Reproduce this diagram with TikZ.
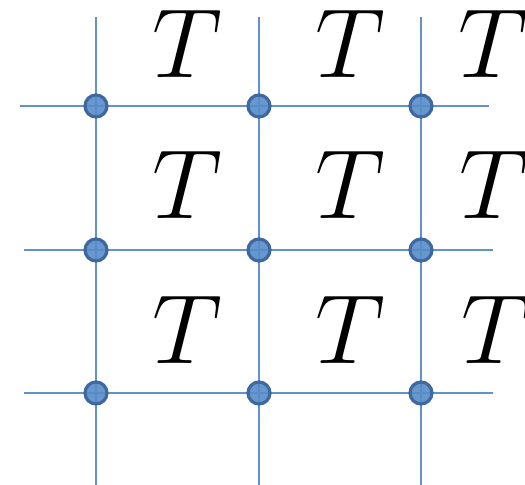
\documentclass[tikz,border=0pt]{standalone}
\usepackage{amsmath}
\usepackage{tikz}
\usepackage{xcolor}
\usetikzlibrary{positioning}
\definecolor{gridblue}{RGB}{98, 146, 204}
\definecolor{dotblue}{RGB}{86, 140, 200}
\definecolor{dotedge}{RGB}{62, 104, 160}

\begin{document}
\begin{tikzpicture}[
    gridline/.style={draw=gridblue, line width=1.1pt},
    site/.style={circle, fill=dotblue, fill opacity=0.9, draw=dotedge, line width=1.8pt, minimum size=0.44cm, inner sep=0pt},
    tlabel/.style={inner sep=0pt, font=\Huge, scale=2.25, transform shape}]
    \useasboundingbox (0,0) rectangle (10.5,9.7);
    \clip (0,0) rectangle (10.5,9.7);

    % ends of the grid lines
    \coordinate (v1t) at (1.92,9.36); \coordinate (v1b) at (1.92,0);
    \coordinate (v2t) at (5.18,9.36); \coordinate (v2b) at (5.18,0);
    \coordinate (v3t) at (8.42,9.36); \coordinate (v3b) at (8.42,0);
    \coordinate (h1l) at (0.40,7.58); \coordinate (h1r) at (9.78,7.58);
    \coordinate (h2l) at (0.48,4.70); \coordinate (h2r) at (9.86,4.70);
    \coordinate (h3l) at (0.48,1.84); \coordinate (h3r) at (9.86,1.84);

    \draw[gridline] (v1t) -- (v1b);
    \draw[gridline] (v2t) -- (v2b);
    \draw[gridline] (v3t) -- (v3b);
    \draw[gridline] (h1l) -- (h1r);
    \draw[gridline] (h2l) -- (h2r);
    \draw[gridline] (h3l) -- (h3r);

    % lattice sites
    \node[site] (s11) at (1.92,7.58) {};
    \node[site] (s12) at (5.18,7.58) {};
    \node[site] (s13) at (8.42,7.58) {};
    \node[site] (s21) at (1.92,4.70) {};
    \node[site] (s22) at (5.18,4.70) {};
    \node[site] (s23) at (8.42,4.70) {};
    \node[site] (s31) at (1.92,1.84) {};
    \node[site] (s32) at (5.18,1.84) {};
    \node[site] (s33) at (8.42,1.84) {};

    % plaquette labels
    \node[tlabel] (t11) at (3.74,8.82) {$T$};
    \node[tlabel] (t12) at (7.00,8.82) {$T$};
    \node[tlabel] (t13) at (9.86,8.82) {$T$};
    \node[tlabel] (t21) at (3.74,6.00) {$T$};
    \node[tlabel] (t22) at (7.00,6.00) {$T$};
    \node[tlabel] (t23) at (9.88,6.00) {$T$};
    \node[tlabel] (t31) at (3.74,3.10) {$T$};
    \node[tlabel] (t32) at (7.00,3.10) {$T$};
    \node[tlabel] (t33) at (9.92,3.10) {$T$};
  \end{tikzpicture}
\end{document}
